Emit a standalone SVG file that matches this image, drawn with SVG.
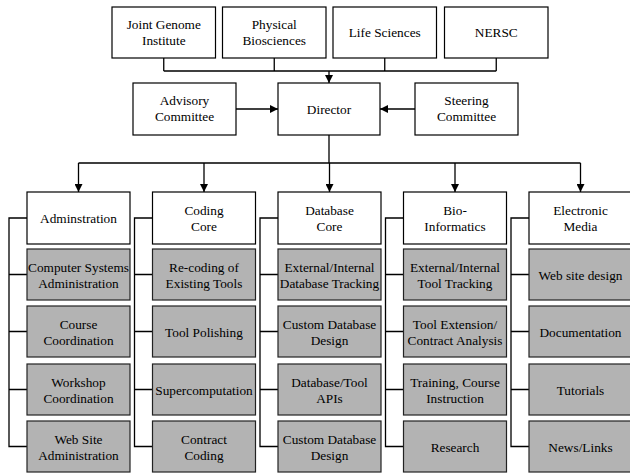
<svg xmlns="http://www.w3.org/2000/svg" width="630" height="474" viewBox="0 0 630 474">
<defs>
<marker id="arr" markerUnits="userSpaceOnUse" markerWidth="8" markerHeight="8" refX="8" refY="4" orient="auto">
<path d="M0,0 L8,4 L0,8 z" fill="#000"/>
</marker>
<style>
.w{fill:#fff;stroke:#000;stroke-width:1.2}
.g{fill:#b3b3b3;stroke:#222;stroke-width:1.2}
text{font-family:'Liberation Serif','Times New Roman','DejaVu Serif',serif;font-size:13.3px;fill:#000;text-anchor:middle}
.c{fill:none;stroke:#000;stroke-width:1.3}
</style>
</defs>
<rect width="630" height="474" fill="#fff"/>
<g id="connectors">
<path class="c" d="M163.75,58V71M274.25,58V71M384.75,58V71M496.25,58V71M163.75,71H496.25"/>
<path class="c" d="M329,71V83" marker-end="url(#arr)"/>
<path class="c" d="M236,109H278" marker-end="url(#arr)"/>
<path class="c" d="M415,109H380" marker-end="url(#arr)"/>
<path class="c" d="M329,135V163M78.5,163H580.5"/>
<path class="c" d="M78.5,163V192" marker-end="url(#arr)"/>
<path class="c" d="M204,163V192" marker-end="url(#arr)"/>
<path class="c" d="M329.5,163V192" marker-end="url(#arr)"/>
<path class="c" d="M455,163V192" marker-end="url(#arr)"/>
<path class="c" d="M580.5,163V192" marker-end="url(#arr)"/>
<path class="c" d="M27,218H9V446.5H27M9,274.5H27M9,331.5H27M9,389.5H27"/>
<path class="c" d="M152.5,218H134.5V446.5H152.5M134.5,274.5H152.5M134.5,331.5H152.5M134.5,389.5H152.5"/>
<path class="c" d="M278,218H260V446.5H278M260,274.5H278M260,331.5H278M260,389.5H278"/>
<path class="c" d="M403.5,218H385.5V446.5H403.5M385.5,274.5H403.5M385.5,331.5H403.5M385.5,389.5H403.5"/>
<path class="c" d="M529,218H511V446.5H529M511,274.5H529M511,331.5H529M511,389.5H529"/>
</g>
<g font-family="Liberation Serif, Times New Roman, serif">
<g id="jgi"><rect class="w" x="112" y="7" width="103.5" height="51"/><text x="163.75" y="29">Joint Genome</text><text x="163.75" y="45">Institute</text></g>
<g id="pb"><rect class="w" x="222.5" y="7" width="103.5" height="51"/><text x="274.25" y="29">Physical</text><text x="274.25" y="45">Biosciences</text></g>
<g id="ls"><rect class="w" x="333" y="7" width="103.5" height="51"/><text x="384.75" y="37">Life Sciences</text></g>
<g id="nersc"><rect class="w" x="444.5" y="7" width="103.5" height="51"/><text x="496.25" y="37">NERSC</text></g>
<g id="advisory"><rect class="w" x="133" y="83" width="103" height="52"/><text x="184.5" y="105">Advisory</text><text x="184.5" y="121">Committee</text></g>
<g id="director"><rect class="w" x="278" y="83" width="102" height="52"/><text x="329" y="113.5">Director</text></g>
<g id="steering"><rect class="w" x="415" y="83" width="103" height="52"/><text x="466.5" y="105">Steering</text><text x="466.5" y="121">Committee</text></g>

<g id="admin"><rect class="w" x="27" y="192" width="103" height="52"/><text x="78.5" y="222.5">Adminstration</text></g>
<g id="admin1"><rect class="g" x="27" y="249" width="103" height="51"/><text x="78.5" y="271.5">Computer Systems</text><text x="78.5" y="287.5">Administration</text></g>
<g id="admin2"><rect class="g" x="27" y="306" width="103" height="51"/><text x="78.5" y="328.5">Course</text><text x="78.5" y="344.5">Coordination</text></g>
<g id="admin3"><rect class="g" x="27" y="364" width="103" height="51"/><text x="78.5" y="386.5">Workshop</text><text x="78.5" y="402.5">Coordination</text></g>
<g id="admin4"><rect class="g" x="27" y="421" width="103" height="51"/><text x="78.5" y="443.5">Web Site</text><text x="78.5" y="459.5">Administration</text></g>

<g id="coding"><rect class="w" x="152.5" y="192" width="103" height="52"/><text x="204" y="214.5">Coding</text><text x="204" y="230.5">Core</text></g>
<g id="coding1"><rect class="g" x="152.5" y="249" width="103" height="51"/><text x="204" y="271.5">Re-coding of</text><text x="204" y="287.5">Existing Tools</text></g>
<g id="coding2"><rect class="g" x="152.5" y="306" width="103" height="51"/><text x="204" y="336.5">Tool Polishing</text></g>
<g id="coding3"><rect class="g" x="152.5" y="364" width="103" height="51"/><text x="204" y="394.5">Supercomputation</text></g>
<g id="coding4"><rect class="g" x="152.5" y="421" width="103" height="51"/><text x="204" y="443.5">Contract</text><text x="204" y="459.5">Coding</text></g>

<g id="database"><rect class="w" x="278" y="192" width="103" height="52"/><text x="329.5" y="214.5">Database</text><text x="329.5" y="230.5">Core</text></g>
<g id="db1"><rect class="g" x="278" y="249" width="103" height="51"/><text x="329.5" y="271.5">External/Internal</text><text x="329.5" y="287.5">Database Tracking</text></g>
<g id="db2"><rect class="g" x="278" y="306" width="103" height="51"/><text x="329.5" y="328.5">Custom Database</text><text x="329.5" y="344.5">Design</text></g>
<g id="db3"><rect class="g" x="278" y="364" width="103" height="51"/><text x="329.5" y="386.5">Database/Tool</text><text x="329.5" y="402.5">APIs</text></g>
<g id="db4"><rect class="g" x="278" y="421" width="103" height="51"/><text x="329.5" y="443.5">Custom Database</text><text x="329.5" y="459.5">Design</text></g>

<g id="bio"><rect class="w" x="403.5" y="192" width="103" height="52"/><text x="455" y="214.5">Bio-</text><text x="455" y="230.5">Informatics</text></g>
<g id="bio1"><rect class="g" x="403.5" y="249" width="103" height="51"/><text x="455" y="271.5">External/Internal</text><text x="455" y="287.5">Tool Tracking</text></g>
<g id="bio2"><rect class="g" x="403.5" y="306" width="103" height="51"/><text x="455" y="328.5">Tool Extension/</text><text x="455" y="344.5">Contract Analysis</text></g>
<g id="bio3"><rect class="g" x="403.5" y="364" width="103" height="51"/><text x="455" y="386.5">Training, Course</text><text x="455" y="402.5">Instruction</text></g>
<g id="bio4"><rect class="g" x="403.5" y="421" width="103" height="51"/><text x="455" y="451.5">Research</text></g>

<g id="electronic"><rect class="w" x="529" y="192" width="103" height="52"/><text x="580.5" y="214.5">Electronic</text><text x="580.5" y="230.5">Media</text></g>
<g id="em1"><rect class="g" x="529" y="249" width="103" height="51"/><text x="580.5" y="279.5">Web site design</text></g>
<g id="em2"><rect class="g" x="529" y="306" width="103" height="51"/><text x="580.5" y="336.5">Documentation</text></g>
<g id="em3"><rect class="g" x="529" y="364" width="103" height="51"/><text x="580.5" y="394.5">Tutorials</text></g>
<g id="em4"><rect class="g" x="529" y="421" width="103" height="51"/><text x="580.5" y="451.5">News/Links</text></g>
</g>
</svg>
